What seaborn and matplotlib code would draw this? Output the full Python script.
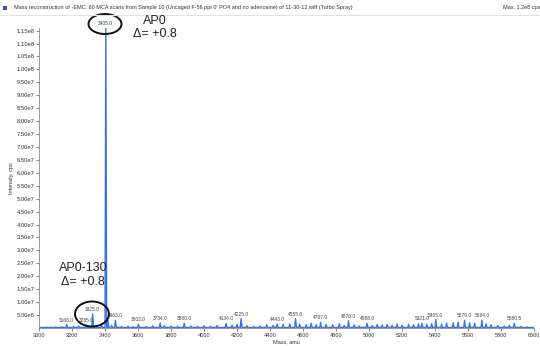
import matplotlib
matplotlib.use("Agg")
import matplotlib.pyplot as plt
from matplotlib.patches import Ellipse, Rectangle
from matplotlib.ticker import FuncFormatter
import numpy as np
import pandas as pd
import seaborn as sns

# Labelled peaks (mass in amu, intensity in cps)
labelled_mass = [3168.0, 3285.0, 3325.0, 3405.0, 3463.0, 3603.0, 3734.0, 3880.0,
                 4134.0, 4225.0, 4443.0, 4555.0, 4707.0, 4876.0, 4988.0, 5321.0,
                 5405.0, 5579.0, 5684.0, 5880.5]
labelled_int = [1.3e6, 1.2e6, 5.5e6, 1.16e8, 3.0e6, 1.4e6, 1.9e6, 1.8e6,
                1.8e6, 3.6e6, 1.5e6, 3.6e6, 2.2e6, 2.8e6, 1.8e6, 1.8e6,
                3.2e6, 3.0e6, 3.0e6, 1.8e6]

# Smaller unlabelled peaks along the baseline
minor_mass = [3050, 3100, 3140, 3210, 3240, 3345, 3380, 3418, 3440, 3500, 3540,
              3570, 3650, 3690, 3760, 3800, 3840, 3920, 3960, 4000, 4040, 4080,
              4170, 4200, 4260, 4300, 4340, 4380, 4420, 4480, 4520, 4580, 4620,
              4650, 4680, 4740, 4780, 4820, 4850, 4910, 4940, 5020, 5050, 5080,
              5110, 5140, 5170, 5200, 5240, 5270, 5300, 5350, 5380, 5440, 5470,
              5510, 5540, 5610, 5640, 5710, 5740, 5780, 5820, 5850, 5920, 5960]
minor_int = [0.3e6, 0.4e6, 0.5e6, 0.6e6, 0.8e6, 0.9e6, 1.0e6, 3.0e6, 1.0e6, 0.6e6, 0.7e6,
             0.5e6, 0.6e6, 0.8e6, 0.9e6, 0.7e6, 0.6e6, 0.8e6, 0.6e6, 0.9e6, 0.7e6, 1.0e6,
             1.1e6, 1.3e6, 0.9e6, 0.6e6, 0.8e6, 1.2e6, 1.0e6, 1.4e6, 1.6e6, 1.5e6, 1.3e6,
             1.8e6, 1.2e6, 1.4e6, 1.2e6, 1.6e6, 1.0e6, 1.2e6, 0.8e6, 1.0e6, 1.4e6, 1.2e6,
             1.3e6, 1.0e6, 1.5e6, 1.1e6, 1.4e6, 1.2e6, 1.6e6, 1.4e6, 1.7e6, 1.5e6, 1.9e6,
             2.0e6, 2.2e6, 2.0e6, 1.8e6, 1.6e6, 1.2e6, 0.9e6, 0.7e6, 1.0e6, 0.6e6, 0.4e6]

baseline = 0.2e6
x_ticks = list(range(3000, 6001, 200))
y_ticks = [v * 5e6 for v in range(1, 24)]

title_text = ("Mass reconstruction of -EMC: 60 MCA scans from Sample 10 (Uncaged F-56 ppt 0' PO4 "
              "and no adenosine) of 11-30-12.wiff (Turbo Spray)")
max_text = "Max. 1.2e8 cps"

# Build the profile trace: each peak rises from the baseline and falls back
peaks = sorted(zip(labelled_mass + minor_mass, labelled_int + minor_int))
half_width = 5
trace_x, trace_y = [3000], [baseline]
for m, h in peaks:
    trace_x += [m - half_width, m, m + half_width]
    trace_y += [baseline, h, baseline]
trace_x.append(6000)
trace_y.append(baseline)
spectrum = pd.DataFrame({"mass": trace_x, "intensity": trace_y})

sns.set_theme(style="ticks")
plt.rcParams["font.family"] = ["Liberation Sans", "DejaVu Sans"]

W, H = 540, 346
fig = plt.figure(figsize=(W / 100, H / 100), dpi=100)
ax = fig.add_axes([39 / W, 18 / H, 495 / W, 300 / H])

blue = "#3574e6"
sns.lineplot(data=spectrum, x="mass", y="intensity", ax=ax, sort=False,
             estimator=None, color=blue, linewidth=1.0)

ax.set_xlim(3000, 6000)
ax.set_ylim(0, 1.16e8)
ax.set_xticks(x_ticks)
ax.set_yticks(y_ticks)


def sci_label(v, _pos):
    if v <= 0:
        return ""
    exp = int(np.floor(np.log10(v)))
    return f"{v / 10 ** exp:.2f}e{exp}"


ax.yaxis.set_major_formatter(FuncFormatter(sci_label))
ax.tick_params(axis="y", labelsize=4.2, length=2, width=0.5, pad=1,
               colors="#555555", labelcolor="#333333")
ax.tick_params(axis="x", labelsize=4.0, length=2, width=0.5, pad=1.5,
               colors="#555555", labelcolor="#333333")
for side in ("top", "right"):
    ax.spines[side].set_visible(False)
for side in ("left", "bottom"):
    ax.spines[side].set_linewidth(0.6)
    ax.spines[side].set_color("#888888")
ax.set_xlabel("Mass, amu", fontsize=4.0, labelpad=1.0, color="#333333")
ax.set_ylabel("Intensity, cps", fontsize=4.0, labelpad=2, color="#333333")

# Peak value labels
for m, h in zip(labelled_mass, labelled_int):
    ax.annotate(f"{m:.1f}", (m, h), xytext=(0, 1.5), textcoords="offset points",
                ha="center", va="bottom", fontsize=3.5, color="#444444",
                annotation_clip=False)

# Header strip
fig.text(14 / W, 1 - 8 / H, title_text, fontsize=4.0, color="#333333", va="center")
fig.text(540 / W, 1 - 8 / H, max_text, fontsize=4.0, color="#333333", va="center", ha="right")
fig.patches.append(Rectangle((3 / W, 1 - 10 / H), 4 / W, 4 / H, transform=fig.transFigure,
                             facecolor="#2255cc", edgecolor="none"))
fig.add_artist(plt.Line2D([0, 1], [1 - 15 / H, 1 - 15 / H], transform=fig.transFigure,
                          color="#e2e2e2", linewidth=0.8))

# Callouts for the parent ion and its fragment
fig.patches.append(Ellipse((105 / W, 1 - 24 / H), 33 / W, 20 / H, transform=fig.transFigure,
                           facecolor="none", edgecolor="#111111", linewidth=1.4))
fig.patches.append(Ellipse((92 / W, 1 - 314 / H), 34 / W, 25 / H, transform=fig.transFigure,
                           facecolor="none", edgecolor="#111111", linewidth=1.4))
fig.text(155 / W, 1 - 21 / H, "AP0", fontsize=9, color="#222222", ha="center", va="center")
fig.text(155 / W, 1 - 34 / H, "Δ= +0.8", fontsize=9, color="#222222", ha="center", va="center")
fig.text(83 / W, 1 - 268 / H, "AP0-130", fontsize=9, color="#222222", ha="center", va="center")
fig.text(83 / W, 1 - 282 / H, "Δ= +0.8", fontsize=9, color="#222222", ha="center", va="center")

fig.savefig("out.png", dpi=100, facecolor="white")
